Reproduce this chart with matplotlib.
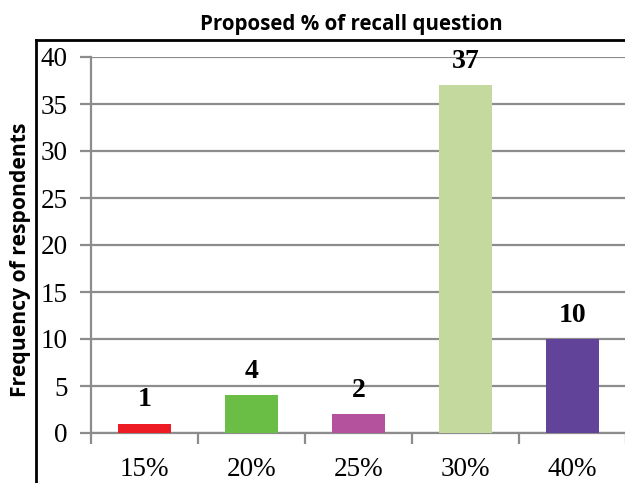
import matplotlib
matplotlib.use('Agg')
import matplotlib.pyplot as plt
from matplotlib.lines import Line2D

categories = ['15%', '20%', '25%', '30%', '40%']
frequencies = [1, 4, 2, 37, 10]
bar_colors = ['#ED1C24', '#6BBE45', '#B5529E', '#C4D99E', '#61449A']
y_ticks = [0, 5, 10, 15, 20, 25, 30, 35, 40]

GRID = '#8C8C8C'
SERIF = 'Liberation Serif'
SANS = 'Open Sans'

fig = plt.figure(figsize=(6.25, 4.83), dpi=100)
ax = fig.add_axes([91 / 625, 50 / 483, 535 / 625, 376 / 483])

x = range(len(categories))
ax.bar(x, frequencies, width=0.5, color=bar_colors, zorder=3)

for xi, v in zip(x, frequencies):
    ax.text(xi, v + 1.2, str(v), ha='center', va='bottom',
            fontsize=20, fontweight='bold', family=SERIF, zorder=4)

ax.set_xlim(-0.5, len(categories) - 0.5)
ax.set_ylim(0, 40)
ax.set_yticks(y_ticks)
ax.set_yticklabels([str(t) for t in y_ticks], family=SERIF, fontsize=19.5)
ax.yaxis.grid(True, color=GRID, linewidth=1.6, zorder=0)

# category labels sit between the boundary ticks
ax.set_xticks([i - 0.5 for i in range(len(categories) + 1)])
ax.set_xticklabels([])
ax.set_xticks(list(x), minor=True)
ax.set_xticklabels(categories, minor=True, family=SERIF, fontsize=19.5)
ax.tick_params(axis='x', which='major', direction='out', length=8, color=GRID, width=1.6)
ax.tick_params(axis='x', which='minor', length=0, pad=17)
ax.tick_params(axis='y', direction='out', length=8, color=GRID, width=1.6, pad=9)

for side in ['top', 'right']:
    ax.spines[side].set_visible(False)
for side in ['left', 'bottom']:
    ax.spines[side].set_color(GRID)
    ax.spines[side].set_linewidth(1.6)

ax.set_ylabel('Frequency of respondents', family=SANS, fontweight='bold',
              fontsize=15.2)
ax.yaxis.set_label_coords(-0.113, 0.46)

fig.text(0.562, 0.95, 'Proposed % of recall question', ha='center', va='center',
         family=SANS, fontweight='bold', fontsize=14.8)

# outer frame around the chart area
fx, fy = 36 / 625, 1 - 40 / 483
fig.add_artist(Line2D([fx, 1.0], [fy, fy], color='black', linewidth=2,
                      transform=fig.transFigure))
fig.add_artist(Line2D([fx, fx], [0, fy], color='black', linewidth=2,
                      transform=fig.transFigure))

fig.savefig('out.png', dpi=100)
